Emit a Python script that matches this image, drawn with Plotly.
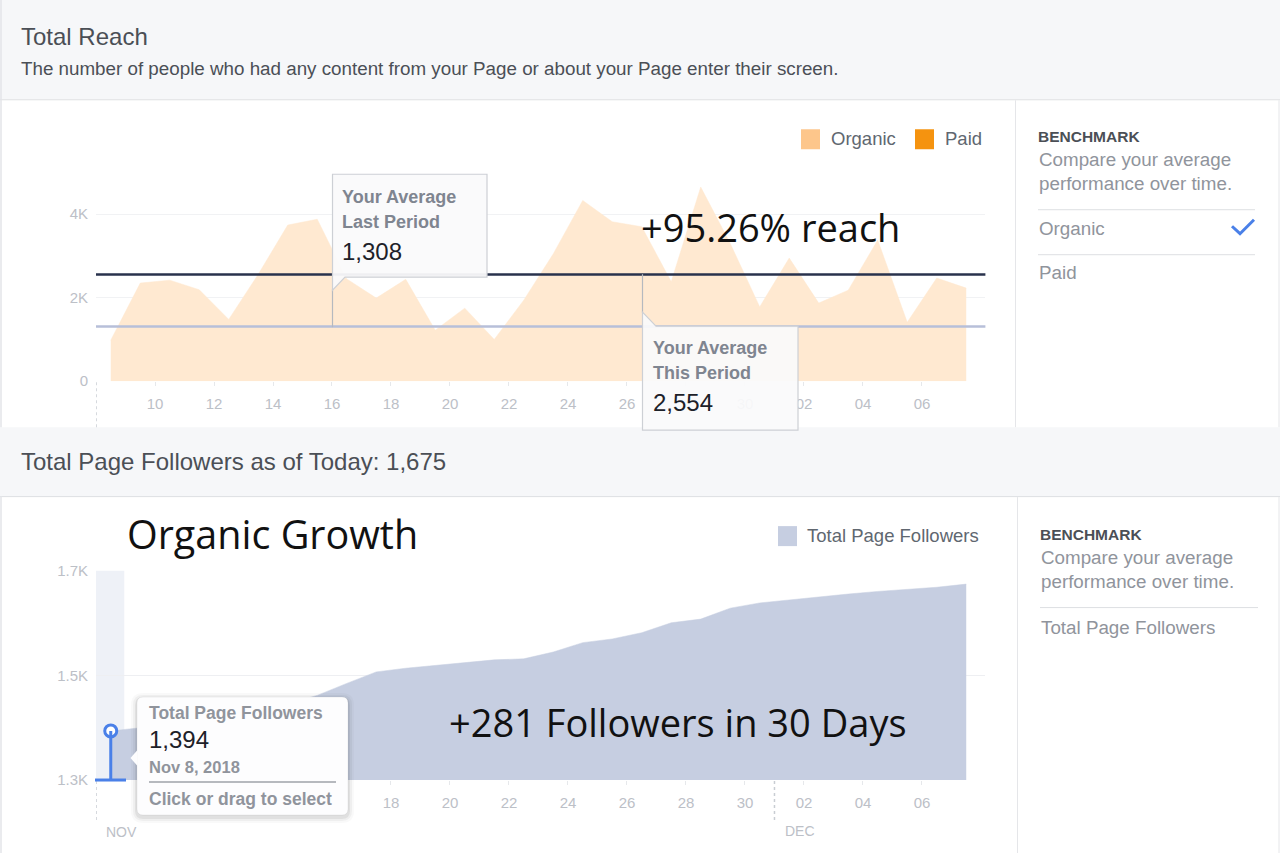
import plotly.graph_objects as go

W, H = 1280, 853

# ---------------- data ----------------
dates = ["2018-11-08", "2018-11-09", "2018-11-10", "2018-11-11", "2018-11-12",
         "2018-11-13", "2018-11-14", "2018-11-15", "2018-11-16", "2018-11-17",
         "2018-11-18", "2018-11-19", "2018-11-20", "2018-11-21", "2018-11-22",
         "2018-11-23", "2018-11-24", "2018-11-25", "2018-11-26", "2018-11-27",
         "2018-11-28", "2018-11-29", "2018-11-30", "2018-12-01", "2018-12-02",
         "2018-12-03", "2018-12-04", "2018-12-05", "2018-12-06", "2018-12-07"]

organic_reach = [980, 2350, 2420, 2190, 1480, 2560, 3740, 3880, 2450, 1990,
                 2440, 1220, 1750, 1000, 1940, 3050, 4330, 3820, 3700, 2380,
                 4650, 3300, 1780, 2950, 1870, 2180, 3380, 1410, 2470, 2230]

avg_last_period = 1308
avg_this_period = 2554

followers = [1394, 1400, 1405, 1412, 1420, 1432, 1446, 1462, 1485, 1507,
             1514, 1519, 1524, 1530, 1532, 1545, 1563, 1570, 1582, 1601,
             1608, 1629, 1639, 1645, 1650, 1656, 1661, 1665, 1669, 1675]

day_tick_vals = ["2018-11-10", "2018-11-12", "2018-11-14", "2018-11-16", "2018-11-18",
                 "2018-11-20", "2018-11-22", "2018-11-24", "2018-11-26", "2018-11-28",
                 "2018-11-30", "2018-12-02", "2018-12-04", "2018-12-06"]
# labels that sit under the tooltips are hidden by them in the original screenshot
reach_day_text = ["10", "12", "14", "16", "18", "20", "22", "24", "26", "",
                  "30", "02", "04", "06"]
follower_day_text = ["", "", "", "", "18", "20", "22", "24", "26", "28",
                     "30", "02", "04", "06"]

reach_tick_vals = [0, 2000, 4000]
reach_tick_text = ["0", "2K", "4K"]
follower_tick_vals = [1300, 1500, 1700]
follower_tick_text = ["1.3K", "1.5K", "1.7K"]

month_marks = ["2018-11-08", "2018-12-01"]
month_text = ["NOV", "DEC"]

# ---------------- helpers ----------------
UI = "Liberation Sans, Arial, Helvetica, sans-serif"
BIG = "Open Sans, Noto Sans, sans-serif"
GREY_TXT = "#90949c"
DARK_TXT = "#4b4f56"
TICK_TXT = "#bcc0c7"

# the photographed page shows the figure slightly inset/compressed vertically;
# positions below are given in target-picture pixels and mapped accordingly
Y_OFF, Y_SCALE = 7.7, 0.9816


def px(x):
    return x / W


def py(y):
    return 1 - ((y - Y_OFF) / Y_SCALE) / H


def P(x, y):
    return f"{px(x):.5f},{py(y):.5f}"


def poly(points):
    s = "M" + P(*points[0])
    for p in points[1:]:
        s += " L" + P(*p)
    return s + " Z"


def rrect(x0, y0, x1, y1, r):
    return ("M" + P(x0 + r, y0) + " L" + P(x1 - r, y0) + " Q" + P(x1, y0) + " " + P(x1, y0 + r)
            + " L" + P(x1, y1 - r) + " Q" + P(x1, y1) + " " + P(x1 - r, y1)
            + " L" + P(x0 + r, y1) + " Q" + P(x0, y1) + " " + P(x0, y1 - r)
            + " L" + P(x0, y0 + r) + " Q" + P(x0, y0) + " " + P(x0 + r, y0) + " Z")


def T(x, y, text, size, color, bold=False, family=UI, xanchor="left"):
    return dict(x=px(x), y=py(y), xref="paper", yref="paper",
                text=("<b>" + text + "</b>") if bold else text,
                showarrow=False, xanchor=xanchor, yanchor="middle",
                font=dict(size=size, color=color, family=family))


def rect(x0, y0, x1, y1, fill, line=None, layer="below"):
    return dict(type="rect", xref="paper", yref="paper",
                x0=px(x0), y0=py(y0), x1=px(x1), y1=py(y1),
                fillcolor=fill, line=dict(width=0) if line is None else line, layer=layer)


def hline(x0, x1, y, color, width=1, layer="below", dash="solid"):
    return dict(type="line", xref="paper", yref="paper", x0=px(x0), x1=px(x1),
                y0=py(y), y1=py(y), line=dict(color=color, width=width, dash=dash), layer=layer)


def vline(x, y0, y1, color, width=1, layer="below", dash="solid"):
    return dict(type="line", xref="paper", yref="paper", x0=px(x), x1=px(x),
                y0=py(y0), y1=py(y1), line=dict(color=color, width=width, dash=dash), layer=layer)


x_mid = [d + " 12:00" for d in dates]
x_range = ["2018-11-08 00:00", "2018-12-08 03:36"]

fig = go.Figure()

fig.add_trace(go.Scatter(
    x=x_mid, y=organic_reach, mode="lines", fill="tozeroy",
    fillcolor="#ffe9d1", line=dict(color="#ffe9d1", width=0.5),
    xaxis="x", yaxis="y", hoverinfo="skip", name="Organic"))

fig.add_trace(go.Scatter(
    x=x_mid, y=followers, mode="lines", fill="tozeroy",
    fillcolor="#c6cee1", line=dict(color="#c6cee1", width=0.5),
    xaxis="x2", yaxis="y2", hoverinfo="skip", name="Total Page Followers"))

# pin marker on the selected (first) day
fig.add_trace(go.Scatter(
    x=[x_mid[0]], y=[followers[0]], mode="markers", cliponaxis=False,
    marker=dict(size=12, color="white", line=dict(color="#4a80e8", width=3)),
    xaxis="x2", yaxis="y2", hoverinfo="skip"))

axis_common = dict(type="date", range=x_range, tickvals=day_tick_vals,
                   ticks="outside", ticklen=4, tickcolor="#e6e8eb", showgrid=False,
                   showline=False, zeroline=False, ticklabelstandoff=5,
                   tickfont=dict(size=15, color=TICK_TXT, family=UI), fixedrange=True)

fig.update_layout(
    width=W, height=H, margin=dict(l=0, r=0, t=0, b=0),
    paper_bgcolor="white", plot_bgcolor="rgba(0,0,0,0)",
    showlegend=False, hovermode=False, font=dict(family=UI),
    modebar=dict(bgcolor="rgba(0,0,0,0)", color="rgba(0,0,0,0)", activecolor="rgba(0,0,0,0)"),
    xaxis=dict(domain=[px(96), px(985.4)], anchor="y", ticktext=reach_day_text, **axis_common),
    yaxis=dict(domain=[py(381), py(180.6)], anchor="x", range=[0, 4800],
               tickvals=reach_tick_vals, ticktext=reach_tick_text,
               showgrid=True, gridcolor="#f1f2f4", gridwidth=1, zeroline=False,
               showline=False, ticks="", ticklabelstandoff=7,
               tickfont=dict(size=15, color=TICK_TXT, family=UI)),
    xaxis2=dict(domain=[px(96), px(985.4)], anchor="y2", ticktext=follower_day_text, **axis_common),
    yaxis2=dict(domain=[py(780), py(570.7)], anchor="x2", range=[1300, 1700.5],
                tickvals=follower_tick_vals, ticktext=follower_tick_text,
                showgrid=True, gridcolor="#eeeff2", gridwidth=1, zeroline=False,
                showline=False, ticks="", ticklabelstandoff=7,
                tickfont=dict(size=15, color=TICK_TXT, family=UI)),
)

shapes = []
# panel backgrounds and borders
shapes.append(rect(0, -20, 1280, 99, "#f6f7f9"))
shapes.append(hline(0, 1280, 99.5, "#dddfe2"))
shapes.append(rect(0, 427, 1280, 496, "#f6f7f9"))
shapes.append(hline(0, 1280, 496.5, "#dddfe2"))
shapes.append(vline(1.0, -20, 427, "#e3e5e8", 1.5))
shapes.append(vline(1.0, 496, 870, "#e3e5e8", 1.5))
shapes.append(vline(1015.5, 100, 427, "#e5e6e9"))
shapes.append(vline(1017.5, 497, 870, "#e5e6e9"))
shapes.append(vline(1279, 100, 427, "#e5e6e9"))
shapes.append(vline(1279, 497, 870, "#e5e6e9"))

# sidebar separators
shapes.append(hline(1038, 1255, 209.5, "#dddfe2"))
shapes.append(hline(1038, 1255, 254.5, "#dddfe2"))
shapes.append(hline(1040, 1258, 607.5, "#dddfe2"))
# check mark
shapes.append(dict(type="path", xref="paper", yref="paper",
                   path="M" + P(1232, 226) + " L" + P(1240, 233.5) + " L" + P(1254, 219.5),
                   line=dict(color="#4a80e8", width=3), layer="above"))

# legends
shapes.append(rect(801, 129, 820, 149, "#fdc68b"))
shapes.append(rect(915, 129, 934, 149, "#f5930f"))
shapes.append(rect(778, 526, 797, 546, "#c6cee1"))

# highlight band for hovered day (bottom chart)
shapes.append(dict(type="rect", xref="x2", yref="y2 domain", x0=dates[0], x1=dates[0] + " 23:00",
                   y0=0, y1=1, fillcolor="#eef1f7", line=dict(width=0), layer="below"))

# month separator dotted lines
shapes.append(dict(type="line", xref="x", yref="paper", x0=month_marks[0], x1=month_marks[0],
                   y0=py(382), y1=py(427), line=dict(color="#c9cdd3", width=1.5, dash="dot"),
                   layer="below"))
for m in month_marks:
    shapes.append(dict(type="line", xref="x2", yref="paper", x0=m, x1=m,
                       y0=py(781), y1=py(822), line=dict(color="#c9cdd3", width=1.5, dash="dot"),
                       layer="below"))

# benchmark average lines
shapes.append(dict(type="line", xref="x domain", yref="y", x0=0, x1=1,
                   y0=avg_last_period, y1=avg_last_period,
                   line=dict(color="#b7bfd9", width=2.5), layer="above"))
shapes.append(dict(type="line", xref="x domain", yref="y", x0=0, x1=1,
                   y0=avg_this_period, y1=avg_this_period,
                   line=dict(color="#29324c", width=2.5), layer="above"))

# tooltip: last period
shapes.append(vline(332.5, 289, 327, "#b5b9bf", 1.2, layer="above"))
shapes.append(dict(type="path", xref="paper", yref="paper",
                   path=poly([(332.5, 174), (487, 174), (487, 277), (345, 277), (332.5, 290)]),
                   fillcolor="rgba(250,250,251,0.95)", line=dict(color="#cdd0d5", width=1.2),
                   layer="above"))
# tooltip: this period
shapes.append(vline(642.5, 274, 313, "#b5b9bf", 1.2, layer="above"))
shapes.append(dict(type="path", xref="paper", yref="paper",
                   path=poly([(642.5, 312), (656, 326), (798, 326), (798, 430), (642.5, 430)]),
                   fillcolor="rgba(250,250,251,0.93)", line=dict(color="#cdd0d5", width=1.2),
                   layer="above"))

# pin
shapes.append(dict(type="line", xref="x2", yref="y2", x0=x_mid[0], x1=x_mid[0],
                   y0=follower_tick_vals[0], y1=followers[0],
                   line=dict(color="#4a80e8", width=3), layer="above"))
shapes.append(hline(95, 126, 780, "#4a80e8", 3, layer="above"))

# followers tooltip with shadow
for grow, alpha in [(6, 0.025), (4, 0.04), (2, 0.06)]:
    shapes.append(dict(type="path", xref="paper", yref="paper",
                       path=rrect(137 - grow, 697 - grow + 2, 348 + grow, 815 + grow + 2, 6 + grow),
                       fillcolor=f"rgba(0,0,0,{alpha})", line=dict(width=0), layer="above"))
shapes.append(dict(type="path", xref="paper", yref="paper",
                   path=rrect(137, 697, 348, 815, 6),
                   fillcolor="#fdfdfe", line=dict(color="rgba(0,0,0,0.06)", width=1), layer="above"))
shapes.append(dict(type="path", xref="paper", yref="paper",
                   path=poly([(137.5, 750), (130.5, 758), (137.5, 766)]),
                   fillcolor="#fdfdfe", line=dict(width=0), layer="above"))
shapes.append(hline(149, 336, 782, "#9ea2a9", 1.5, layer="above"))

fig.update_layout(shapes=shapes)

pct = (avg_this_period - avg_last_period) / avg_last_period * 100
gain = followers[-1] - followers[0]

ann = [
    T(19, 36, "Total Reach", 24, DARK_TXT),
    T(19, 68, "The number of people who had any content from your Page or about your Page enter their screen.",
      18.8, DARK_TXT),
    T(19, 461, f"Total Page Followers as of Today: {followers[-1]:,}", 24, DARK_TXT),
    T(829, 138, "Organic", 18.5, "#606770"),
    T(943, 138, "Paid", 18.5, "#606770"),
    T(805, 535, "Total Page Followers", 18.5, "#606770"),
    T(1036, 136, "BENCHMARK", 15.5, DARK_TXT, bold=True),
    T(1037, 159, "Compare your average", 18.8, GREY_TXT),
    T(1037, 183, "performance over time.", 18.8, GREY_TXT),
    T(1037, 228, "Organic", 18.8, GREY_TXT),
    T(1037, 272, "Paid", 18.8, GREY_TXT),
    T(1038, 534, "BENCHMARK", 15.5, DARK_TXT, bold=True),
    T(1039, 557, "Compare your average", 18.8, GREY_TXT),
    T(1039, 581, "performance over time.", 18.8, GREY_TXT),
    T(1039, 627, "Total Page Followers", 18.8, GREY_TXT),
    # tooltips
    T(340, 197, "Your Average", 18, "#7f8590", bold=True),
    T(340, 222, "Last Period", 18, "#7f8590", bold=True),
    T(340, 251, f"{avg_last_period:,}", 24, "#1d2129"),
    T(651, 348, "Your Average", 18, "#7f8590", bold=True),
    T(651, 373, "This Period", 18, "#7f8590", bold=True),
    T(651, 402, f"{avg_this_period:,}", 24, "#1d2129"),
    T(147, 713, "Total Page Followers", 17.5, GREY_TXT, bold=True),
    T(147, 739, f"{followers[0]:,}", 24, "#1d2129"),
    T(147, 767, "Nov 8, 2018", 16.5, GREY_TXT, bold=True),
    T(147, 799, "Click or drag to select", 17.5, GREY_TXT, bold=True),
    # month labels
    dict(x=month_marks[0] + " 21:00", y=py(832), xref="x2", yref="paper", text=month_text[0],
         showarrow=False, xanchor="center", yanchor="middle",
         font=dict(size=14, color=TICK_TXT, family=UI)),
    dict(x=month_marks[1] + " 21:00", y=py(831), xref="x2", yref="paper", text=month_text[1],
         showarrow=False, xanchor="center", yanchor="middle",
         font=dict(size=14, color=TICK_TXT, family=UI)),
    # overlay headlines
    T(770, 227, f"+{pct:.2f}% reach", 38, "#111111", family=BIG, xanchor="center"),
    T(272, 534, "Organic Growth", 39.5, "#111111", family=BIG, xanchor="center"),
    T(678, 722, f"+{gain} Followers in 30 Days", 38, "#111111", family=BIG, xanchor="center"),
]
fig.update_layout(annotations=ann)

page_js = (
    "var de=document.documentElement;"
    "de.style.margin='0px';de.style.padding='0px';de.style.overflow='hidden';"
    "document.body.style.margin='0px';document.body.style.padding='0px';"
    "document.body.style.overflow='hidden';"
)

fig.write_html("out.html", config={"displayModeBar": False}, post_script=page_js)
